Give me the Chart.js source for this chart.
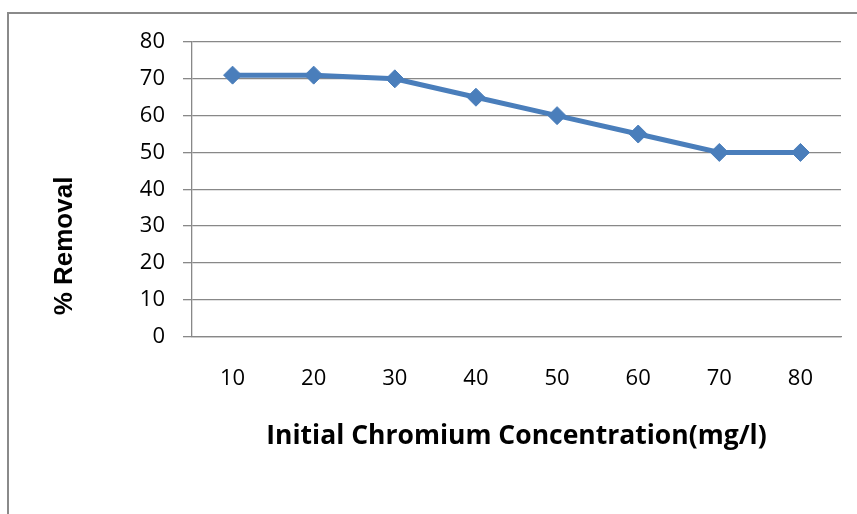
<!DOCTYPE html>
<html>
<head>
<meta charset="utf-8">
<script src="https://cdn.jsdelivr.net/npm/chart.js@4.4.0/dist/chart.umd.min.js"></script>
<style>
	html, body { margin: 0; padding: 0; background: #fff; overflow: hidden; }
	#frame {
		position: absolute; left: 7px; top: 12px; width: 1000px; height: 700px;
		border-left: 2px solid #8a8a8a; border-top: 2px solid #8a8a8a;
	}
	#wrap { position: absolute; left: 0; top: 0; width: 857px; height: 514px; }
</style>
</head>
<body>
<div id="frame"></div>
<div id="wrap"><canvas id="chart"></canvas></div>
<script>
(function () {
	'use strict';

	/* ---------- Data ---------- */

	var concentrations = ['10', '20', '30', '40', '50', '60', '70', '80'];
	var removal = [71, 71, 70, 65, 60, 55, 50, 50];

	var X_TITLE = 'Initial Chromium Concentration(mg/l)';
	var Y_TITLE = '% Removal';

	var LINE = '#4a7ebb';
	var GRID = '#888888';

	/* ---------- Axis titles ---------- */

	var axisTitles = {
		id: 'axisTitles',
		afterDraw: function (chart) {
			var ctx = chart.ctx;
			var area = chart.chartArea;
			ctx.save();
			ctx.fillStyle = '#000';
			ctx.textAlign = 'center';
			ctx.textBaseline = 'alphabetic';
			ctx.font = 'bold 26.5px "Open Sans"';
			ctx.fillText(X_TITLE, (area.left + area.right) / 2, 444);
			ctx.translate(72, 246);
			ctx.rotate(-Math.PI / 2);
			ctx.font = 'bold 26px "Liberation Sans"';
			ctx.fillText(Y_TITLE, 0, 0);
			ctx.restore();
		},
	};

	/* ---------- Chart ---------- */

	new Chart(document.getElementById('chart'), {
		type: 'line',
		data: {
			labels: concentrations,
			datasets: [
				{
					data: removal,
					borderColor: LINE,
					backgroundColor: LINE,
					borderWidth: 5,
					pointStyle: 'rectRot',
					pointRadius: 9,
					pointBorderWidth: 1,
					pointBackgroundColor: LINE,
					pointBorderColor: LINE,
					tension: 0,
				},
			],
		},
		options: {
			responsive: true,
			maintainAspectRatio: false,
			animation: false,
			layout: { padding: { left: 0, top: 42, right: 16, bottom: 0 } },
			scales: {
				x: {
					type: 'category',
					offset: true,
					grid: { display: false, drawTicks: false },
					border: { display: true, color: GRID, width: 1.3 },
					ticks: {
						color: '#000',
						padding: 29,
						font: { family: '"Open Sans"', size: 22 },
					},
					afterFit: function (scale) {
						scale.height = 177.5;
					},
				},
				y: {
					min: 0,
					max: 80,
					ticks: {
						stepSize: 10,
						color: '#000',
						padding: 18,
						font: { family: '"Open Sans"', size: 22 },
					},
					grid: { color: GRID, lineWidth: 1.3, tickLength: 9, drawTicks: true },
					border: { display: true, color: GRID, width: 1.3 },
					afterFit: function (scale) {
						scale.width = 192;
					},
				},
			},
			plugins: {
				legend: { display: false },
				title: { display: false },
				tooltip: { enabled: false },
			},
		},
		plugins: [axisTitles],
	});
})();
</script>
</body>
</html>
